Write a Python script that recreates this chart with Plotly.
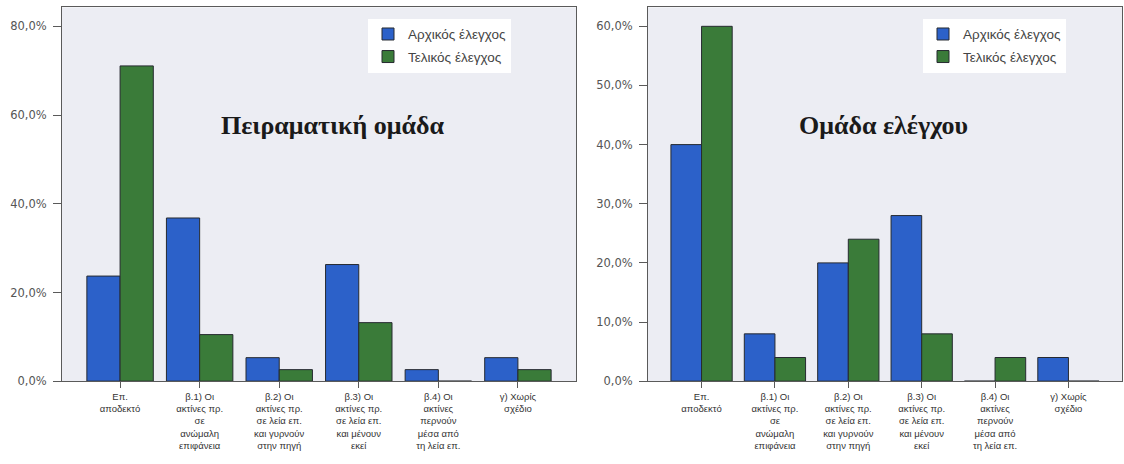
import plotly.graph_objects as go

# Response categories (x-axis tick labels)
categories = [
    "Επ.<br>αποδεκτό",
    "β.1) Οι<br>ακτίνες πρ.<br>σε<br>ανώμαλη<br>επιφάνεια",
    "β.2) Οι<br>ακτίνες πρ.<br>σε λεία επ.<br>και γυρνούν<br>στην πηγή",
    "β.3) Οι<br>ακτίνες πρ.<br>σε λεία επ.<br>και μένουν<br>εκεί",
    "β.4) Οι<br>ακτίνες<br>περνούν<br>μέσα από<br>τη λεία επ.",
    "γ) Χωρίς<br>σχέδιο",
]

# Experimental group (%)
exp_initial = [23.7, 36.8, 5.3, 26.3, 2.6, 5.3]
exp_final = [71.1, 10.5, 2.6, 13.2, 0.0, 2.6]

# Control group (%)
ctl_initial = [40.0, 8.0, 20.0, 28.0, 0.0, 4.0]
ctl_final = [60.0, 4.0, 24.0, 8.0, 4.0, 0.0]

# Y-axis ticks
exp_ticks = [0, 20, 40, 60, 80]
ctl_ticks = [0, 10, 20, 30, 40, 50, 60]

series_names = ["Αρχικός έλεγχος", "Τελικός έλεγχος"]
panel_titles = ["Πειραματική ομάδα", "Ομάδα ελέγχου"]

BLUE = "#2C61C9"
GREEN = "#3A7B39"
EDGE = "#262a30"
PLOT_BG = "#ECEDF3"
AXIS = "#5a5a5a"

W, H = 1124, 464


def px_x(v):
    return v / W


def px_y(v):
    return (H - v) / H


fig = go.Figure()

panels = [
    ("x", "y", "legend", exp_initial, exp_final),
    ("x2", "y2", "legend2", ctl_initial, ctl_final),
]
for xa, ya, lg, init, fin in panels:
    for k, (vals, col) in enumerate([(init, BLUE), (fin, GREEN)]):
        fig.add_trace(go.Bar(
            x=categories, y=vals, name=series_names[k],
            xaxis=xa, yaxis=ya, legend=lg, legendgroup=f"{lg}{k}",
            marker=dict(color=col, line=dict(color=EDGE, width=1)),
            hoverinfo="skip",
        ))

tick_font = dict(family="DejaVu Sans", size=11.5, color="#555555")
cat_font = dict(family="Liberation Sans", size=9.5, color="#333333")


def yaxis_cfg(ticks, top, domain_anchor):
    return dict(
        domain=[px_y(387), px_y(7.5)], range=[0, top], anchor=domain_anchor,
        tickvals=ticks, ticktext=[f"{t},0%" for t in ticks],
        tickfont=tick_font, ticks="outside", ticklen=8, tickcolor=AXIS,
        ticklabelstandoff=4,
        showline=True, linecolor=AXIS, linewidth=1, mirror=True,
        showgrid=False, zeroline=False, fixedrange=True,
    )


def xaxis_cfg(left, right, domain_anchor):
    return dict(
        domain=[px_x(left), px_x(right)], range=[-0.73, 5.73], anchor=domain_anchor,
        tickfont=cat_font, ticks="outside", ticklen=6, tickcolor=AXIS,
        tickangle=0, showline=True, linecolor=AXIS, linewidth=1, mirror=True,
        showgrid=False, zeroline=False, fixedrange=True,
    )


legend_common = dict(
    bgcolor="white", borderwidth=0, xanchor="left", yanchor="top",
    font=dict(family="Liberation Sans", size=13.5, color="#444444"),
    tracegroupgap=2, itemclick=False, itemdoubleclick=False,
)

fig.update_layout(
    width=W, height=H,
    margin=dict(l=0, r=0, t=0, b=0),
    paper_bgcolor="white",
    plot_bgcolor=PLOT_BG,
    barmode="group", bargap=0.165, bargroupgap=0.0,
    xaxis=xaxis_cfg(62, 576, "y"),
    yaxis=yaxis_cfg(exp_ticks, 84.3, "x"),
    xaxis2=xaxis_cfg(648, 1122, "y2"),
    yaxis2=yaxis_cfg(ctl_ticks, 63.2, "x2"),
    legend=dict(x=px_x(368), y=px_y(19), **legend_common),
    legend2=dict(x=px_x(923), y=px_y(19), **legend_common),
    showlegend=True,
)

for title, cx in zip(panel_titles, [333, 883]):
    fig.add_annotation(
        text=f"<b>{title}</b>", xref="paper", yref="paper",
        x=px_x(cx), y=px_y(127), xanchor="center", yanchor="middle",
        showarrow=False,
        font=dict(family="Liberation Serif", size=26, color="#1a1a1a"),
    )

fig.write_html("out.html")
